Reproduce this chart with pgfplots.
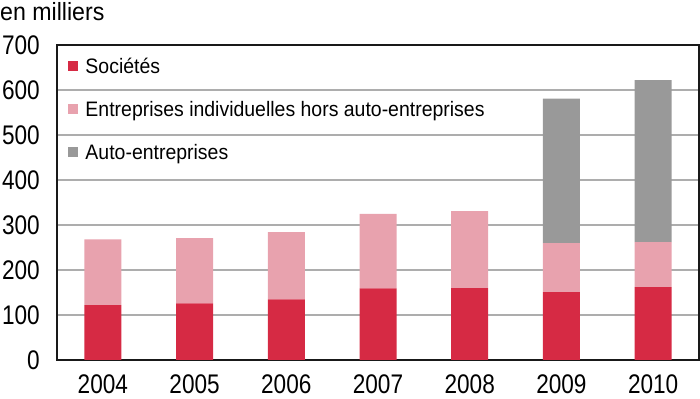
\documentclass[border=0pt]{standalone}
\usepackage{fontspec}
\setmainfont[FakeStretch=0.93]{Liberation Sans}
\newfontfamily\tickfont[FakeStretch=0.84]{Liberation Sans}
\usepackage{pgfplots}
\pgfplotsset{compat=1.18}
\definecolor{soc}{RGB}{214,42,68}
\definecolor{ei}{RGB}{232,162,174}
\definecolor{auto}{RGB}{153,153,153}
\begin{document}
\begin{tikzpicture}
\useasboundingbox (-57bp,-39bp) rectangle (643bp,360bp);
\begin{axis}[
  at={(0,0)}, anchor=south west,
  scale only axis, width=642bp, height=315bp,
  xmin=-0.5, xmax=6.5, ymin=0, ymax=700,
  xtick={0,...,6},
  xticklabels={2004,2005,2006,2007,2008,2009,2010},
  ytick={0,100,...,700},
  major tick length=0pt,
  ymajorgrids,
  grid style={color=black!32, line width=1.5bp},
  axis line style={line width=2bp, black!90},
  /pgf/number format/assume math mode=true,
  ticklabel style={font=\tickfont\fontsize{27}{30}\selectfont, inner sep=0pt},
  yticklabel style={xshift=-17bp},
  xticklabel style={yshift=-14.5bp},
  ybar stacked, bar width=37bp,
  legend style={at={(0,1)}, anchor=north west, xshift=11bp, yshift=-13.3bp,
    draw=none, fill=none, inner sep=0pt, outer sep=0pt,
    font=\fontsize{21}{25}\selectfont, row sep=28bp, column sep=0pt,
    nodes={inner sep=0pt, text height=15bp, text depth=0pt}},
  legend cell align=left,
  legend image code/.code={\fill[#1] (0bp,-5.25bp) rectangle (10.5bp,5.25bp); \path (17.5bp,0bp);},
]
\addplot[fill=soc, draw=none] coordinates {(0,122) (1,126) (2,135) (3,159) (4,160) (5,151) (6,162)};
\addlegendentry{Sociétés}
\addplot[fill=ei, draw=none] coordinates {(0,146) (1,145) (2,149) (3,166) (4,171) (5,109) (6,100)};
\addlegendentry{Entreprises individuelles hors auto-entreprises}
\addplot[fill=auto, draw=none] coordinates {(0,0) (1,0) (2,0) (3,0) (4,0) (5,321) (6,360)};
\addlegendentry{Auto-entreprises}
\end{axis}
\node[anchor=base west, inner sep=0pt, font=\fontsize{25}{28}\selectfont] at (-57bp,339bp) {en milliers};
\end{tikzpicture}
\end{document}
